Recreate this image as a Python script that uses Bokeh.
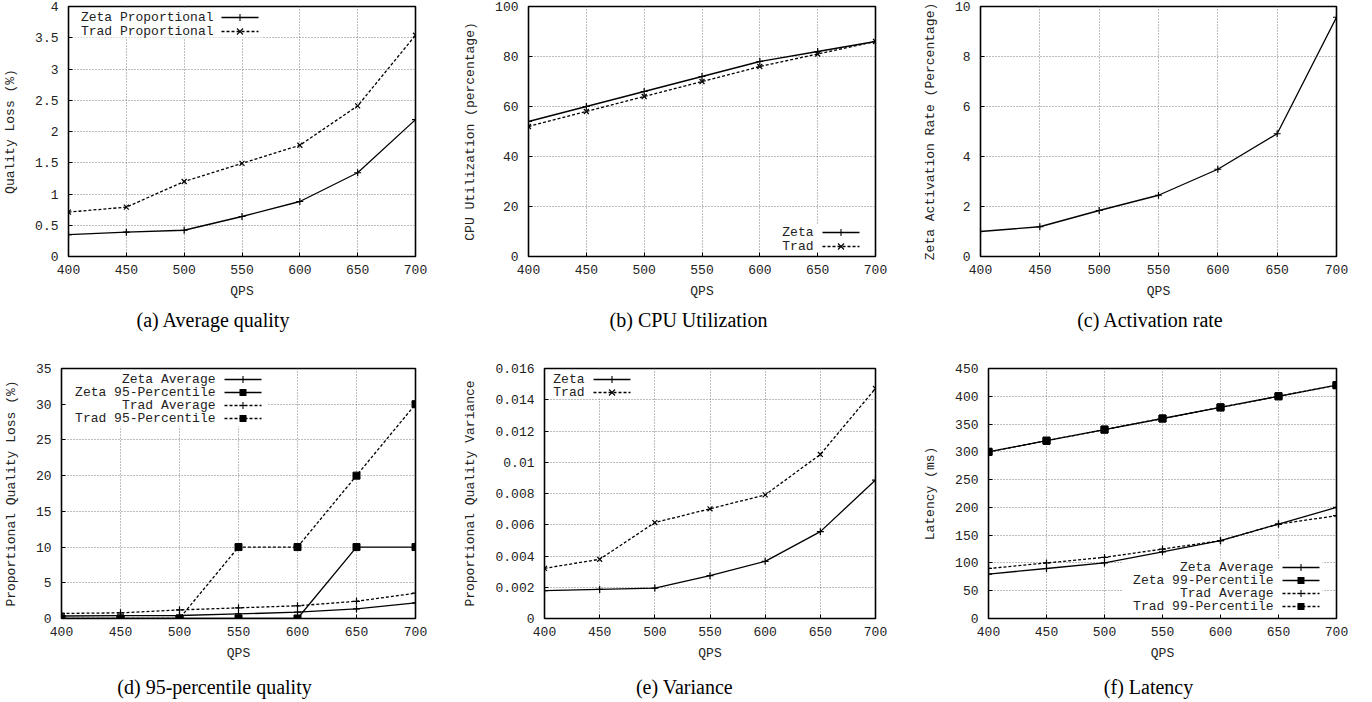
from bokeh.plotting import figure
from bokeh.layouts import column, row
from bokeh.models import (Range1d, FixedTicker, Label, BoxAnnotation, Arrow)
from bokeh.embed import file_html
from bokeh.resources import INLINE

# ---------------- data ----------------
qps = [400, 450, 500, 550, 600, 650, 700]
qps_ticks = [400, 450, 500, 550, 600, 650, 700]

avg_zeta = [0.35, 0.39, 0.42, 0.64, 0.88, 1.34, 2.19]
avg_trad = [0.71, 0.79, 1.20, 1.49, 1.78, 2.41, 3.54]

cpu_zeta = [54, 60, 66, 72, 78, 82, 86]
cpu_trad = [52, 58, 64, 70, 76, 81, 86]

act_zeta = [1.0, 1.19, 1.84, 2.45, 3.49, 4.91, 9.57]

p95_zeta = [0, 0, 0, 0, 0, 10, 10]
p95_trad = [0, 0, 0, 10, 10, 20, 30]

var_zeta = [0.00178, 0.00186, 0.00195, 0.00274, 0.00366, 0.00556, 0.00886]
var_trad = [0.00321, 0.00379, 0.00614, 0.00702, 0.00791, 0.0105, 0.01472]

lat_zeta_avg = [80, 90, 100, 120, 140, 170, 200]
lat_zeta_p99 = [300, 320, 340, 360, 380, 400, 420]
lat_trad_avg = [90, 100, 110, 125, 140, 170, 185]
lat_trad_p99 = [300, 320, 340, 360, 380, 400, 420]

yt_a = [0, 0.5, 1, 1.5, 2, 2.5, 3, 3.5, 4]
yl_a = ["0", "0.5", "1", "1.5", "2", "2.5", "3", "3.5", "4"]
yt_b = [0, 20, 40, 60, 80, 100]
yl_b = ["0", "20", "40", "60", "80", "100"]
yt_c = [0, 2, 4, 6, 8, 10]
yl_c = ["0", "2", "4", "6", "8", "10"]
yt_d = [0, 5, 10, 15, 20, 25, 30, 35]
yl_d = ["0", "5", "10", "15", "20", "25", "30", "35"]
yt_e = [0, 0.002, 0.004, 0.006, 0.008, 0.01, 0.012, 0.014, 0.016]
yl_e = ["0", "0.002", "0.004", "0.006", "0.008", "0.01", "0.012", "0.014", "0.016"]
yt_f = [0, 50, 100, 150, 200, 250, 300, 350, 400, 450]
yl_f = ["0", "50", "100", "150", "200", "250", "300", "350", "400", "450"]

captions_top = ["(a) Average quality", "(b) CPU Utilization", "(c) Activation rate"]
captions_bottom = ["(d) 95-percentile quality", "(e) Variance", "(f) Latency"]

MONO = "Liberation Mono"
SERIF = "Liberation Serif"
TXT = "#222222"
DASH = "3 2"


def style_axis(ax, is_y):
    ax.axis_line_color = None
    ax.major_tick_in = 4
    ax.major_tick_out = 0
    ax.minor_tick_in = 0
    ax.minor_tick_out = 0
    ax.major_tick_line_color = "black"
    ax.major_tick_line_width = 1
    ax.major_label_text_font = MONO
    ax.major_label_text_font_size = "13px"
    ax.major_label_text_color = TXT
    ax.axis_label_text_font = MONO
    ax.axis_label_text_font_size = "13px"
    ax.axis_label_text_font_style = "normal"
    ax.axis_label_text_color = TXT
    ax.major_label_standoff = 10 if is_y else 8
    ax.axis_label_standoff = 14 if is_y else 7


def make_fig(w, h, bl, br, bt, bb, ymax, yticks, ylabels, ylabel):
    p = figure(width=w, height=h, min_border_left=bl, min_border_right=br,
               min_border_top=bt, min_border_bottom=bb,
               x_range=Range1d(400, 700), y_range=Range1d(0, ymax),
               x_axis_label="QPS", y_axis_label=ylabel,
               output_backend="svg", toolbar_location=None, title=None)
    p.outline_line_color = "black"
    p.outline_line_width = 1.6
    p.background_fill_color = "white"
    p.border_fill_color = "white"
    p.xaxis.ticker = FixedTicker(ticks=qps_ticks)
    p.yaxis.ticker = FixedTicker(ticks=yticks)
    p.yaxis.major_label_overrides = dict(zip(yticks, ylabels))
    for ax in p.xaxis:
        style_axis(ax, False)
    for ax in p.yaxis:
        style_axis(ax, True)
    p.xgrid.ticker = FixedTicker(ticks=qps_ticks)
    p.ygrid.ticker = FixedTicker(ticks=yticks)
    for g in (p.xgrid[0], p.ygrid[0]):
        g.grid_line_color = "#7a7a7a"
        g.grid_line_dash = "1 2"
        g.grid_line_width = 1
    return p


def series(p, ys, dash, marker, msize):
    p.line(qps, ys, line_color="black", line_width=1.3, line_dash=dash)
    if marker == "square":
        p.scatter(qps, ys, marker="square", size=msize, fill_color="black",
                  line_color="black")
    else:
        p.scatter(qps, ys, marker=marker, size=msize, line_color="black",
                  line_width=1.2)


def seg(p, x0, y0, x1, y1, dash="solid", width=1.3):
    p.add_layout(Arrow(end=None, start=None, x_start=x0, y_start=y0, x_end=x1, y_end=y1,
                       start_units="screen", end_units="screen", line_color="black",
                       line_width=width, line_dash=dash))


def key_marker(p, cx, cy, marker):
    if marker == "cross":
        seg(p, cx - 3.5, cy, cx + 3.5, cy, width=1.1)
        seg(p, cx, cy - 3.5, cx, cy + 3.5, width=1.1)
    elif marker == "x":
        seg(p, cx - 3, cy - 3, cx + 3, cy + 3, width=1.1)
        seg(p, cx - 3, cy + 3, cx + 3, cy - 3, width=1.1)
    else:
        p.add_layout(BoxAnnotation(left=cx - 3.5, right=cx + 3.5, top=cy + 3.5,
                                   bottom=cy - 3.5, left_units="screen",
                                   right_units="screen", top_units="screen",
                                   bottom_units="screen", fill_color="black",
                                   fill_alpha=1.0, line_color=None))


def add_key(p, entries, text_x, first_y, row_h, sample_x, box):
    l, r, t, b = box
    p.add_layout(BoxAnnotation(left=l, right=r, top=t, bottom=b,
                               left_units="screen", right_units="screen",
                               top_units="screen", bottom_units="screen",
                               fill_color="white", fill_alpha=1.0, line_color=None,
                               level="underlay"))
    for i, (text, dash, marker) in enumerate(entries):
        y = first_y - i * row_h
        p.add_layout(Label(x=text_x, y=y, x_units="screen", y_units="screen", text=text,
                           text_align="right", text_baseline="middle", text_font=MONO,
                           text_font_size="13px", text_color=TXT))
        seg(p, sample_x, y, sample_x + 37, y, dash=dash)
        key_marker(p, sample_x + 18.5, y, marker)


def caption_fig(h, texts, centers, y):
    c = figure(width=1372, height=h, x_range=Range1d(0, 1), y_range=Range1d(0, 1),
               min_border=0, x_axis_location=None, y_axis_location=None,
               output_backend="svg", toolbar_location=None, title=None)
    c.grid.visible = False
    c.outline_line_color = None
    c.background_fill_color = "white"
    c.border_fill_color = "white"
    for t, cx in zip(texts, centers):
        c.add_layout(Label(x=cx, y=y, x_units="screen", y_units="screen", text=t,
                           text_align="center", text_baseline="middle",
                           text_font=SERIF, text_font_size="20px", text_color="black"))
    return c


# (a) Average quality
pa = make_fig(455, 306, 68, 40, 6, 50, 4, yt_a, yl_a, "Quality Loss (%)")
series(pa, avg_zeta, "solid", "cross", 7)
series(pa, avg_trad, DASH, "x", 7)
add_key(pa, [("Zeta Proportional", "solid", "cross"), ("Trad Proportional", DASH, "x")],
        145, 239, 14, 153, (2, 194, 248, 219))

# (b) CPU Utilization
pb = make_fig(455, 306, 73, 35, 6, 50, 100, yt_b, yl_b, "CPU Utilization (percentage)")
series(pb, cpu_zeta, "solid", "cross", 7)
series(pb, cpu_trad, DASH, "x", 7)
add_key(pb, [("Zeta", "solid", "cross"), ("Trad", DASH, "x")], 285, 24, 14, 294,
        (248, 335, 32, 2))

# (c) Activation rate
pc = make_fig(462, 306, 70, 36, 6, 50, 10, yt_c, yl_c, "Zeta Activation Rate (Percentage)")
series(pc, act_zeta, "solid", "cross", 7)

# (d) 95-percentile quality
pd_ = make_fig(455, 332, 59, 40, 32, 50, 35, yt_d, yl_d, "Proportional Quality Loss (%)")
series(pd_, avg_zeta, "solid", "cross", 7)
series(pd_, p95_zeta, "solid", "square", 7)
series(pd_, avg_trad, DASH, "cross", 7)
series(pd_, p95_trad, DASH, "square", 7)
add_key(pd_, [("Zeta Average", "solid", "cross"), ("Zeta 95-Percentile", "solid", "square"),
              ("Trad Average", DASH, "cross"), ("Trad 95-Percentile", DASH, "square")],
        154, 239, 13, 163, (2, 206, 248, 192))

# (e) Variance
pe = make_fig(455, 332, 89, 35, 32, 50, 0.016, yt_e, yl_e, "Proportional Quality Variance")
series(pe, var_zeta, "solid", "cross", 7)
series(pe, var_trad, DASH, "x", 7)
add_key(pe, [("Zeta", "solid", "cross"), ("Trad", DASH, "x")], 40, 239, 13, 49,
        (2, 89, 248, 220))

# (f) Latency
pf = make_fig(462, 332, 78, 36, 32, 50, 450, yt_f, yl_f, "Latency (ms)")
series(pf, lat_zeta_avg, "solid", "cross", 7)
series(pf, lat_zeta_p99, "solid", "square", 7)
series(pf, lat_trad_avg, DASH, "cross", 7)
series(pf, lat_trad_p99, DASH, "square", 7)
add_key(pf, [("Zeta Average", "solid", "cross"), ("Zeta 99-Percentile", "solid", "square"),
             ("Trad Average", DASH, "cross"), ("Trad 99-Percentile", DASH, "square")],
        285, 51, 13, 294, (134, 334, 60, 2))

cap_top = caption_fig(30, captions_top, [213, 688, 1150], 17)
cap_bottom = caption_fig(34, captions_bottom, [214, 684, 1148], 16)

layout = column(row(pa, pb, pc), cap_top, row(pd_, pe, pf), cap_bottom)

open("out.html", "w").write(file_html(layout, INLINE))
